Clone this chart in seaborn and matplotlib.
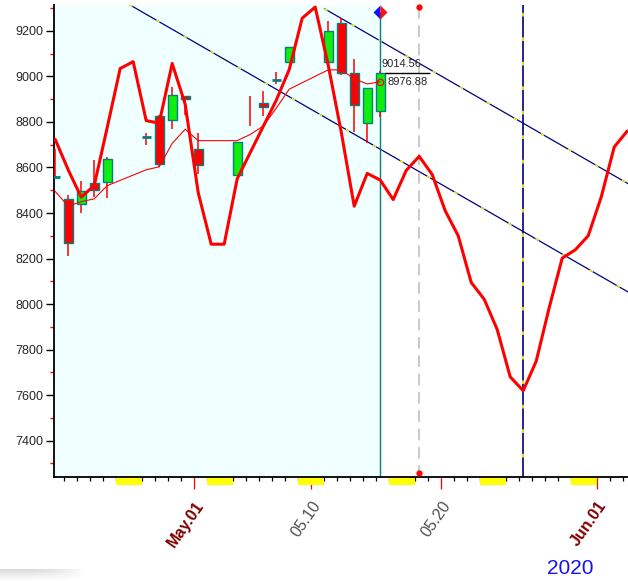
import numpy as np
import pandas as pd
import matplotlib
matplotlib.use("Agg")
import matplotlib.pyplot as plt
import matplotlib.transforms as mtransforms
from matplotlib.patches import Rectangle
import seaborn as sns

# ---- data ----
candle_dates = ["2020-04-20", "2020-04-21", "2020-04-22", "2020-04-23", "2020-04-24",
                "2020-04-27", "2020-04-28", "2020-04-29", "2020-04-30", "2020-05-01",
                "2020-05-04", "2020-05-05", "2020-05-06", "2020-05-07", "2020-05-08",
                "2020-05-11", "2020-05-12", "2020-05-13", "2020-05-14", "2020-05-15"]
opens = [8560, 8460, 8440, 8533, 8535, 8733, 8825, 8810, 8915, 8683,
         8565, np.nan, 8885, 8985, 9065, 9065, 9237, 9014, 8797, 8850]
highs = [8680, 8480, 8540, 8635, 8645, 8753, 8830, 8955, 8915, 8750,
         8712, 8913, 8936, 9018, 9128, 9245, 9255, 9076, 8948, 9024]
lows = [8555, 8210, 8400, 8470, 8465, 8699, 8600, 8770, 8830, 8570,
        8565, 8784, 8826, 8966, 9060, 9060, 9006, 8758, 8709, 8823]
closes = [8560, 8270, 8495, 8502, 8638, 8733, 8615, 8920, 8900, 8613,
          8712, np.nan, 8865, 8985, 9128, 9200, 9014, 8873, 8948, 9014.56]

ma_values = [8495, 8430, 8450, 8462, 8520, 8590, 8603, 8706, 8768, 8718,
             8718, 8745, 8782, 8860, 8944, 9029, 9029, 8990, 8967, 8976.88]

# daily cycle line, 2020-04-20 .. 2020-06-03
cycle_start = "2020-04-20"
cycle_values = [8724, 8590, 8470, 8520, 8775, 9035, 9065, 8806, 8795, 9057,
                8878, 8490, 8263, 8263, 8550, 8665, 8780, 8895, 9030, 9256,
                9305, 9050, 8757, 8430, 8574, 8545, 8459, 8587, 8649, 8569,
                8410, 8300, 8095, 8021, 7888, 7680, 7619, 7749, 7984, 8202,
                8238, 8300, 8470, 8690, 8760]

lower_channel_dates = ["2020-04-26", "2020-06-04"]
lower_channel_values = [9316, 8032]
upper_channel_dates = ["2020-05-11", "2020-06-04"]
upper_channel_values = [9298, 8508]

marker_date = "2020-05-18"
marker_top, marker_bottom = 9304, 7258
turn_date = "2020-05-26"
diamond_value = 9285

major_tick_dates = ["2020-05-01", "2020-05-10", "2020-05-20", "2020-06-01"]
major_tick_labels = ["May.01", "05.10", "05.20", "Jun.01"]
major_label_colors = ["#800000", "#505050", "#505050", "#800000"]
major_label_weights = ["bold", "normal", "normal", "bold"]
weekend_starts = ["2020-04-25", "2020-05-02", "2020-05-09", "2020-05-16",
                  "2020-05-23", "2020-05-30"]
year_label = "2020"

base = pd.Timestamp("2020-05-01")
OFFSET = 0.3  # bars sit slightly right of the day tick


def day(d):
    return (pd.Timestamp(d) - base).days


sns.set_style("white")
plt.rcParams['font.family'] = ['Liberation Sans', 'DejaVu Sans']

fig = plt.figure(figsize=(6.28, 5.81), dpi=100)
ax = fig.add_axes([54 / 628, (581 - 477) / 581, (628 - 54) / 628, (477 - 5) / 581])

xmin, xmax = -10.79, 33.36
ax.set_xlim(xmin, xmax)
ax.set_ylim(7240, 9314)

cx = np.array([day(d) for d in candle_dates]) + OFFSET
last_x = cx[-1]

# history background
ax.axvspan(xmin, last_x, color="#F0FFFF", zorder=0, lw=0)

# channel lines (navy with yellow bits)
for dates, vals in [(lower_channel_dates, lower_channel_values),
                    (upper_channel_dates, upper_channel_values)]:
    xs = [day(d) for d in dates]
    ax.plot(xs, vals, color="#000080", lw=0.9, zorder=2)
    ax.plot(xs, vals, color="#FFFF00", lw=0.9, zorder=2.1, linestyle=(0, (3, 22)))

# vertical markers
ax.axvline(day(turn_date) + OFFSET, color="#000080", lw=1.2, zorder=2)
ax.axvline(day(turn_date) + OFFSET, color="#FFFF00", lw=1.2, zorder=2.1,
           linestyle=(3, (2.2, 12.5)))
gx = day(marker_date) + OFFSET
ax.plot([gx, gx], [marker_top, marker_bottom], color="#C0C0C0", lw=1.2,
        linestyle=(0, (7, 4)), zorder=2)
ax.plot([gx, gx], [marker_top, marker_bottom], ls="none", marker="o", ms=3.5,
        color="#FF0000", zorder=6, clip_on=False)
ax.vlines(last_x, 7240, diamond_value, color="#008080", lw=1, zorder=2.5)

# candles
for x, o, h, l, c in zip(cx, opens, highs, lows, closes):
    ax.vlines(x, l, h, color="#FF0000", lw=1.1, zorder=3)
    if np.isnan(o):
        continue
    if abs(c - o) < 5:
        ax.hlines(o, x - 0.34, x + 0.34, color="#008080", lw=2, zorder=4)
    else:
        ax.add_patch(Rectangle((x - 0.34, min(o, c)), 0.68, abs(c - o),
                               facecolor="#10EE10" if c > o else "#FF0000",
                               edgecolor="#008080", lw=1, zorder=4))

# cycle line and moving average
cycle_df = pd.DataFrame({"x": np.arange(len(cycle_values)) + day(cycle_start) + OFFSET,
                         "y": cycle_values})
sns.lineplot(data=cycle_df, x="x", y="y", color="#FF0000", lw=2.2, ax=ax,
             zorder=5, estimator=None, sort=False)
ma_df = pd.DataFrame({"x": cx, "y": ma_values})
sns.lineplot(data=ma_df, x="x", y="y", color="#FF0000", lw=0.8, ax=ax,
             zorder=6, estimator=None, sort=False)
ax.plot(last_x, ma_values[-1], marker="o", mfc="none", mec="#FF0000", ms=4.5,
        mew=0.9, zorder=7)
ax.plot(last_x, diamond_value, marker="D", fillstyle="left", markerfacecolor="#1010FF",
        markerfacecoloralt="#FF1010", markeredgecolor="none", ms=7, zorder=8,
        clip_on=False)

# price labels
ax.hlines(closes[-1], last_x + 0.37, last_x + 3.83, color="black", lw=1, zorder=7)
ax.text(last_x + 0.12, 9056, f"{closes[-1]:.2f}", fontsize=8, ha="left",
        va="center", zorder=8)
ax.text(last_x + 0.6, ma_values[-1], f"{ma_values[-1]:.2f}", fontsize=8,
        ha="left", va="center", zorder=8)

ax.set_xlabel("")
ax.set_ylabel("")

# axes styling
for s in ["top", "right"]:
    ax.spines[s].set_visible(False)
for s in ["left", "bottom"]:
    ax.spines[s].set_color("black")
    ax.spines[s].set_linewidth(1.3)

ax.set_yticks(np.arange(7400, 9201, 200))
ax.set_yticks(np.arange(7300, 9301, 200), minor=True)
ax.tick_params(axis="y", which="major", direction="out", length=5.8, width=1,
               color="black", pad=2, labelsize=9, left=True)
ax.tick_params(axis="y", which="minor", direction="out", length=2.7, width=1,
               color="#FF0000", left=True)

major_x = [day(d) for d in major_tick_dates]
ax.set_xticks(major_x)
ax.set_xticklabels(major_tick_labels)
ax.set_xticks(np.arange(-10, 34), minor=True)
ax.tick_params(axis="x", which="major", direction="out", length=8.6, width=0.9,
               color="#FF0000", pad=7, labelsize=11.5, bottom=True)
ax.tick_params(axis="x", which="minor", direction="out", length=2.9, width=0.9,
               color="black", bottom=True)
for lab, col, wt in zip(ax.get_xticklabels(), major_label_colors, major_label_weights):
    lab.set_color(col)
    lab.set_fontweight(wt)
    lab.set_rotation(55)
    lab.set_ha("right")
    lab.set_va("top")
    lab.set_rotation_mode("anchor")

# weekend marks under the axis
trans = mtransforms.blended_transform_factory(ax.transData, ax.transAxes)
for s in weekend_starts:
    ax.add_patch(Rectangle((day(s), -0.017), 2, 0.017, transform=trans,
                           facecolor="#FFFF00", lw=0, clip_on=False, zorder=1.2))

fig.text(570 / 628, 1 - 569 / 581, year_label, color="#1414F0", fontsize=15,
         ha="center", va="center")

# soft shadow bottom-left
sh = fig.add_axes([0, 0, 85 / 628, 12 / 581])
gx_, gy_ = np.meshgrid(np.linspace(0, 1, 120), np.linspace(0, 1, 20))
shade = 1 - 0.16 * np.clip(1 - gx_ ** 3, 0, 1) * gy_
sh.imshow(shade, cmap="gray", vmin=0, vmax=1, aspect="auto", origin="lower")
sh.axis("off")

fig.savefig("out.png", dpi=100)
